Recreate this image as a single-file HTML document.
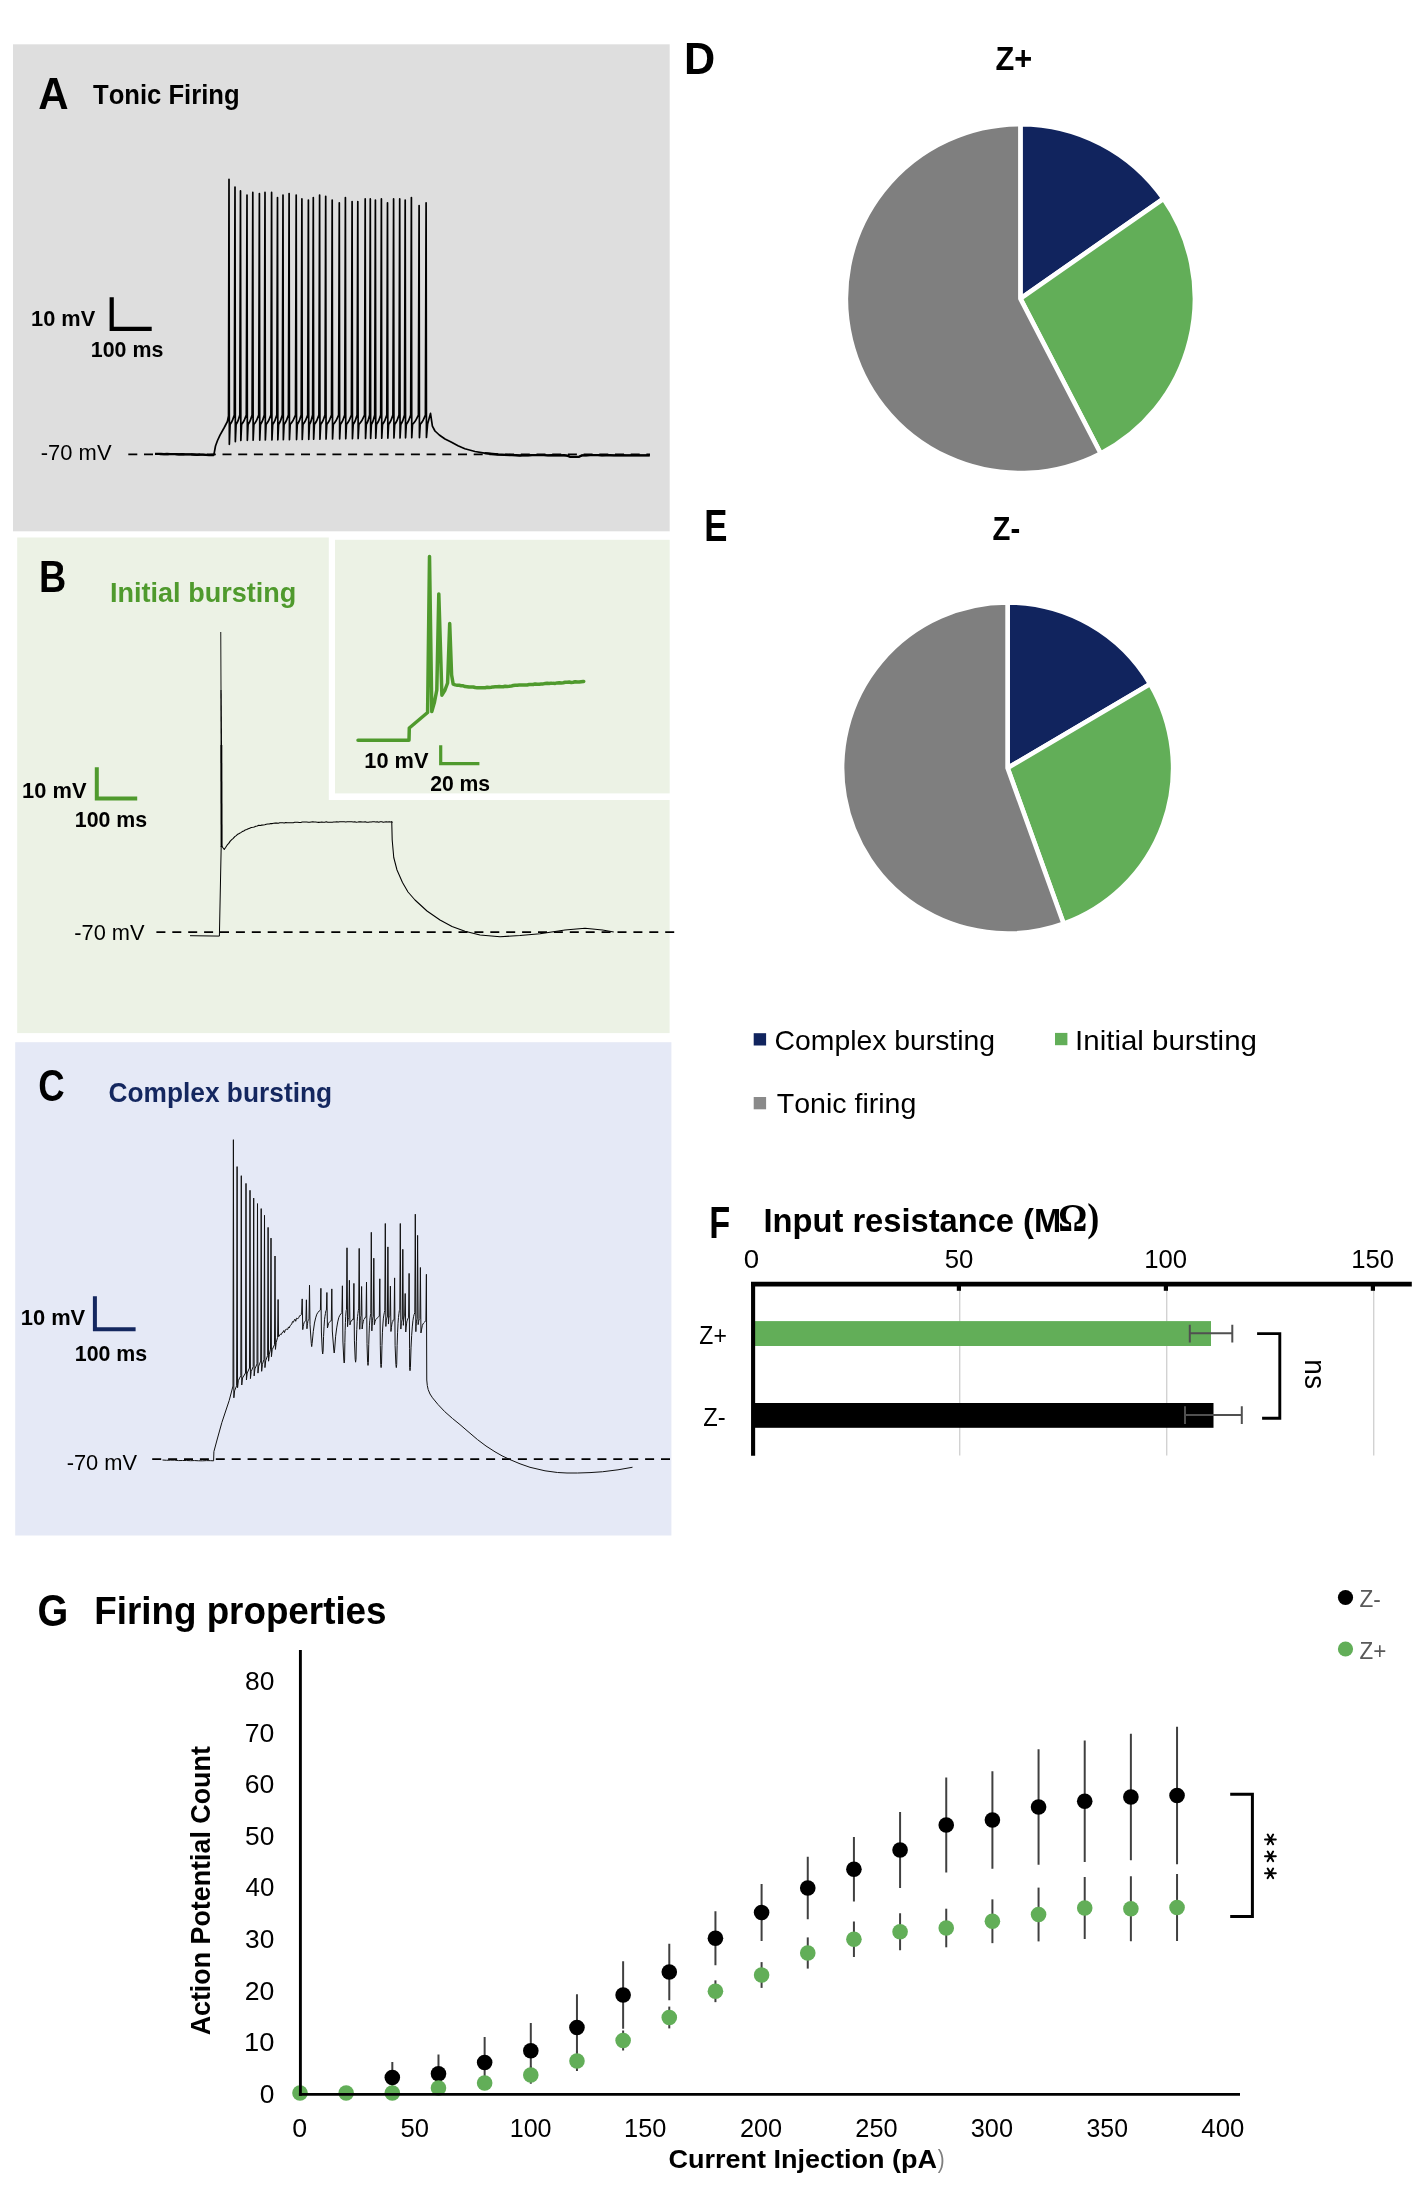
<!DOCTYPE html>
<html><head><meta charset="utf-8"><title>Figure</title>
<style>
html,body{margin:0;padding:0;background:#fff;}
body{width:1424px;height:2187px;overflow:hidden;font-family:"Liberation Sans",sans-serif;}
svg{display:block;will-change:transform;}
text{font-kerning:none;white-space:pre;}
</style></head><body>
<svg width="1424" height="2187" viewBox="0 0 1424 2187">
<rect x="0" y="0" width="1424" height="2187" fill="#ffffff"/>
<rect x="13.00" y="44.30" width="656.70" height="487.00" fill="#dedede"/>
<rect x="17.20" y="537.50" width="652.40" height="495.60" fill="#ecf2e5"/>
<rect x="328.80" y="536.00" width="341.70" height="264.00" fill="#fff"/>
<rect x="335.00" y="539.80" width="334.70" height="253.60" fill="#ecf2e5"/>
<rect x="15.20" y="1042.20" width="656.20" height="493.30" fill="#e5e9f6"/>
<text transform="translate(39.20,108.50) translate(-1.05,0) scale(0.9389,1)" font-family="Liberation Sans" font-size="44.77" font-weight="bold" fill="#000">A</text>
<text transform="translate(93.30,104.00) translate(-0.29,0) scale(0.9187,1)" font-family="Liberation Sans" font-size="27.91" font-weight="bold" fill="#000">Tonic Firing</text>
<text transform="translate(32.40,325.50) translate(-1.37,0) scale(0.9738,1)" font-family="Liberation Sans" font-size="22.38" font-weight="bold" fill="#000">10 mV</text>
<text transform="translate(92.20,357.20) translate(-1.35,0) scale(0.9615,1)" font-family="Liberation Sans" font-size="22.24" font-weight="bold" fill="#000">100 ms</text>
<text transform="translate(41.80,460.10) translate(-0.98,0) scale(0.9684,1)" font-family="Liberation Sans" font-size="22.67" font-weight="normal" fill="#000">-70 mV</text>
<path d="M111.7,297.3 V328.9 H151.7" stroke="#000" stroke-width="4.2" fill="none" />
<line x1="128.30" y1="454.40" x2="650.00" y2="454.40" stroke="#000" stroke-width="1.9" stroke-dasharray="9 6.7"/>
<path d="M155.00,453.80 L158.00,453.87 L161.00,453.84 L164.00,454.15 L167.00,453.91 L170.00,454.20 L173.00,454.17 L176.00,454.08 L179.00,454.36 L182.00,454.18 L185.00,454.44 L188.00,454.31 L191.00,454.38 L194.00,454.60 L197.00,454.86 L200.00,454.57 L203.00,454.67 L206.00,454.93 L209.00,455.15 L212.00,455.02 L213.80,455.00 L214.40,452.00 L215.50,446.00 L217.50,440.50 L220.00,435.20 L224.00,428.00 L227.40,421.50 L228.50,416.00 L229.00,179.30 L229.35,444.30 L230.10,424.5 Q232.50,421.5 234.30,415.0 L235.00,187.00 L235.35,441.60 L236.10,424.5 Q238.25,421.5 239.80,415.0 L240.50,190.90 L240.85,440.40 L241.60,424.5 Q244.25,421.5 246.30,415.0 L247.00,195.00 L247.35,440.30 L248.10,424.5 Q250.40,421.5 252.10,415.0 L252.80,192.40 L253.15,440.21 L253.90,424.5 Q256.60,421.5 258.70,415.0 L259.40,193.60 L259.75,440.11 L260.50,424.5 Q262.70,421.5 264.30,415.0 L265.00,192.40 L265.35,440.01 L266.10,424.5 Q268.80,421.5 270.90,415.0 L271.60,192.40 L271.95,439.92 L272.70,424.5 Q275.05,421.5 276.80,415.0 L277.50,197.50 L277.85,439.82 L278.60,424.5 Q280.75,421.5 282.30,415.0 L283.00,195.00 L283.35,439.72 L284.10,424.5 Q286.55,421.5 288.40,415.0 L289.10,193.60 L289.45,439.63 L290.20,424.5 Q293.15,421.5 295.50,415.0 L296.20,195.00 L296.55,439.53 L297.30,424.5 Q299.55,421.5 301.20,415.0 L301.90,198.90 L302.25,439.43 L303.00,424.5 Q305.65,421.5 307.70,415.0 L308.40,200.10 L308.75,439.34 L309.50,424.5 Q311.35,421.5 312.60,415.0 L313.30,197.50 L313.65,439.24 L314.40,424.5 Q316.95,421.5 318.90,415.0 L319.60,195.00 L319.95,439.14 L320.70,424.5 Q323.15,421.5 325.00,415.0 L325.70,196.30 L326.05,439.05 L326.80,424.5 Q329.45,421.5 331.50,415.0 L332.20,200.10 L332.55,438.95 L333.30,424.5 Q336.25,421.5 338.60,415.0 L339.30,202.80 L339.65,438.85 L340.40,424.5 Q342.85,421.5 344.70,415.0 L345.40,197.50 L345.75,438.76 L346.50,424.5 Q349.25,421.5 351.40,415.0 L352.10,201.50 L352.45,438.66 L353.20,424.5 Q355.45,421.5 357.10,415.0 L357.80,201.50 L358.15,438.56 L358.90,424.5 Q362.00,421.5 364.50,415.0 L365.20,198.90 L365.55,438.47 L366.30,424.5 Q368.25,421.5 369.60,415.0 L370.30,198.90 L370.65,438.37 L371.40,424.5 Q373.35,421.5 374.70,415.0 L375.40,200.10 L375.75,438.27 L376.50,424.5 Q378.90,421.5 380.70,415.0 L381.40,198.90 L381.75,438.18 L382.50,424.5 Q384.95,421.5 386.80,415.0 L387.50,202.80 L387.85,438.08 L388.60,424.5 Q391.05,421.5 392.90,415.0 L393.60,198.90 L393.95,437.98 L394.70,424.5 Q397.15,421.5 399.00,415.0 L399.70,198.90 L400.05,437.89 L400.80,424.5 Q402.95,421.5 404.50,415.0 L405.20,200.10 L405.55,437.79 L406.30,424.5 Q408.80,421.5 410.70,415.0 L411.40,197.50 L411.75,437.69 L412.50,424.5 Q415.75,421.5 418.40,415.0 L419.10,205.50 L419.45,437.60 L420.20,424.5 Q423.10,421.5 425.40,415.0 L426.10,202.80 L426.45,437.50 L427.60,424.00 L430.50,413.40 L432.40,426.20 L435.00,431.00 L439.30,435.00 L445.00,439.00 L451.10,442.00 L458.00,445.80 L464.90,448.80 L475.00,451.50 L484.50,453.10 L498.00,454.50 L512.00,455.20 L516.00,455.26 L520.00,455.49 L524.00,455.12 L528.00,455.44 L532.00,455.22 L536.00,455.16 L540.00,455.15 L544.00,455.22 L548.00,455.43 L552.00,455.17 L556.00,455.33 L560.00,455.36 L564.00,455.25 L567.00,455.60 L570.00,456.80 L579.00,456.80 L582.00,455.40 L586.00,455.32 L590.00,455.13 L594.00,455.12 L598.00,455.18 L602.00,455.37 L606.00,455.27 L610.00,455.23 L614.00,455.33 L618.00,455.28 L622.00,455.22 L626.00,455.42 L630.00,455.38 L634.00,455.20 L638.00,455.33 L642.00,455.31 L646.00,455.45 L649.70,455.30" stroke="#000" stroke-width="1.7" fill="none" stroke-linejoin="round"/>
<path d="M155.00,453.80 L158.00,453.87 L161.00,453.84 L164.00,454.15 L167.00,453.91 L170.00,454.20 L173.00,454.17 L176.00,454.08 L179.00,454.36 L182.00,454.18 L185.00,454.44 L188.00,454.31 L191.00,454.38 L194.00,454.60 L197.00,454.86 L200.00,454.57 L203.00,454.67 L206.00,454.93 L209.00,455.15 L212.00,455.02 L213.80,455.00" stroke="#000" stroke-width="2.3" fill="none" stroke-linejoin="round"/>
<path d="M484.50,453.10 L498.00,454.50 L512.00,455.20 L516.00,455.26 L520.00,455.49 L524.00,455.12 L528.00,455.44 L532.00,455.22 L536.00,455.16 L540.00,455.15 L544.00,455.22 L548.00,455.43 L552.00,455.17 L556.00,455.33 L560.00,455.36 L564.00,455.25 L567.00,455.60 L570.00,456.80 L579.00,456.80 L582.00,455.40 L586.00,455.32 L590.00,455.13 L594.00,455.12 L598.00,455.18 L602.00,455.37 L606.00,455.27 L610.00,455.23 L614.00,455.33 L618.00,455.28 L622.00,455.22 L626.00,455.42 L630.00,455.38 L634.00,455.20 L638.00,455.33 L642.00,455.31 L646.00,455.45 L649.70,455.30" stroke="#000" stroke-width="2.3" fill="none" stroke-linejoin="round"/>
<text transform="translate(41.40,591.90) translate(-2.52,0) scale(0.8452,1)" font-family="Liberation Sans" font-size="44.62" font-weight="bold" fill="#000">B</text>
<text transform="translate(111.80,601.80) translate(-1.81,0) scale(0.9898,1)" font-family="Liberation Sans" font-size="27.33" font-weight="bold" fill="#4f9a2d">Initial bursting</text>
<text transform="translate(23.50,797.90) translate(-1.38,0) scale(0.9898,1)" font-family="Liberation Sans" font-size="22.09" font-weight="bold" fill="#000">10 mV</text>
<text transform="translate(76.10,826.60) translate(-1.34,0) scale(0.9665,1)" font-family="Liberation Sans" font-size="22.09" font-weight="bold" fill="#000">100 ms</text>
<text transform="translate(75.20,940.10) translate(-0.97,0) scale(0.9628,1)" font-family="Liberation Sans" font-size="22.67" font-weight="normal" fill="#000">-70 mV</text>
<path d="M96.8,767.3 V798.6 H137.2" stroke="#4f9a2d" stroke-width="4.0" fill="none" />
<line x1="156.40" y1="932.20" x2="675.00" y2="932.20" stroke="#000" stroke-width="1.8" stroke-dasharray="9 6.9"/>
<path d="M190.00,935.70 L219.40,936.10 L221.20,846.00" stroke="#000" stroke-width="1.0" fill="none" />
<path d="M220.75,632 L221.0,690" stroke="#000" stroke-width="0.9" fill="none" />
<path d="M221.0,690 L221.3,745" stroke="#000" stroke-width="1.4" fill="none" />
<path d="M221.3,745 L221.6,847" stroke="#000" stroke-width="2.0" fill="none" />
<path d="M221.60,846.00 L224.25,849.50 L225.75,847.32 L227.25,844.92 L228.75,843.39 L230.25,841.09 L231.75,839.64 L233.25,838.35 L234.75,836.62 L236.25,835.57 L237.75,834.15 L239.25,833.48 L240.75,832.58 L242.25,831.58 L243.75,830.96 L245.25,829.88 L246.75,829.44 L248.25,828.76 L249.75,828.18 L251.25,827.59 L252.75,827.35 L254.25,826.98 L255.75,826.30 L257.25,826.05 L258.75,825.35 L260.25,825.43 L261.75,825.12 L263.25,825.07 L264.75,824.73 L266.25,824.20 L267.75,824.06 L269.25,824.05 L270.75,823.50 L272.25,823.61 L273.75,823.30 L275.25,823.14 L276.75,822.99 L278.25,823.31 L279.75,822.83 L281.25,822.81 L282.75,822.82 L284.25,823.03 L285.75,822.49 L287.25,822.65 L288.75,822.65 L290.25,822.80 L291.75,822.71 L293.25,822.69 L294.75,822.30 L296.25,822.35 L297.75,822.28 L299.25,822.56 L300.75,822.58 L302.25,822.07 L303.75,822.06 L305.25,822.07 L306.75,822.05 L308.25,822.19 L309.75,822.23 L311.25,822.02 L312.75,821.85 L314.25,822.09 L315.75,822.05 L317.25,822.16 L318.75,822.38 L320.25,822.21 L321.75,822.10 L323.25,822.15 L324.75,822.18 L326.25,821.80 L327.75,822.30 L329.25,822.23 L330.75,822.28 L332.25,822.23 L333.75,821.98 L335.25,821.98 L336.75,821.80 L338.25,822.11 L339.75,821.77 L341.25,821.77 L342.75,821.85 L344.25,821.82 L345.75,821.93 L347.25,821.75 L348.75,821.72 L350.25,821.81 L351.75,821.78 L353.25,821.93 L354.75,821.73 L356.25,822.24 L357.75,822.08 L359.25,821.80 L360.75,821.86 L362.25,821.92 L363.75,821.93 L365.25,821.78 L366.75,822.22 L368.25,822.30 L369.75,821.98 L371.25,822.00 L372.75,821.76 L374.25,821.77 L375.75,821.91 L377.25,821.86 L378.75,822.20 L380.25,821.80 L381.75,821.72 L383.25,822.27 L384.75,822.02 L386.25,821.79 L387.75,822.03 L389.25,821.72 L390.75,822.02 L392.25,822.29 L391.75,821.60 L392.20,840.00 L393.75,857.50 L397.00,870.00 L402.50,882.50 L408.00,892.00 L415.00,900.00 L427.00,911.00 L440.00,920.00 L452.00,926.50 L465.00,931.25 L480.00,935.00 L500.00,936.75 L520.00,935.50 L540.00,933.75 L565.00,930.00 L585.00,928.25 L602.50,930.00 L613.75,932.00" stroke="#000" stroke-width="1.05" fill="none" stroke-linejoin="round"/>
<path d="M358.00,740.30 L409.00,740.30 L409.30,728.00 L427.60,712.50 L429.50,556.40 L431.80,711.60 L434.50,702.00 L436.80,690.00 L438.80,593.90 L441.90,695.20 L445.00,690.00 L447.60,683.00 L449.70,623.60 L451.60,675.00 L453.20,684.20 L455.20,684.87 L457.20,685.16 L459.20,685.27 L461.20,685.69 L463.20,685.85 L465.20,686.57 L467.20,686.70 L469.20,687.09 L471.20,686.92 L473.20,687.00 L475.20,687.56 L477.20,687.77 L479.20,687.73 L481.20,687.74 L483.20,687.80 L485.20,687.72 L487.20,687.29 L489.20,687.42 L491.20,687.23 L493.20,686.88 L495.20,686.73 L497.20,686.76 L499.20,686.59 L501.20,686.74 L503.20,686.76 L505.20,686.25 L507.20,686.43 L509.20,686.31 L511.20,686.12 L513.20,685.55 L515.20,685.29 L517.20,685.16 L519.20,685.01 L521.20,684.88 L523.20,685.04 L525.20,685.10 L527.20,684.92 L529.20,684.54 L531.20,684.54 L533.20,684.52 L535.20,683.90 L537.20,684.18 L539.20,684.23 L541.20,684.03 L543.20,683.88 L545.20,683.57 L547.20,683.26 L549.20,683.58 L551.20,683.15 L553.20,683.37 L555.20,683.39 L557.20,682.88 L559.20,682.77 L561.20,683.05 L563.20,682.78 L565.20,682.28 L567.20,682.14 L569.20,682.05 L571.20,682.47 L573.20,682.29 L575.20,681.72 L577.20,682.09 L579.20,682.08 L581.20,681.75 L583.20,681.42 L583.70,681.50" stroke="#4f9a2d" stroke-width="3.5" fill="none" stroke-linejoin="round" stroke-linecap="round"/>
<path d="M440.7,745.3 V763.7 H479.4" stroke="#4f9a2d" stroke-width="3.2" fill="none" />
<text transform="translate(365.70,768.20) translate(-1.37,0) scale(0.9866,1)" font-family="Liberation Sans" font-size="22.09" font-weight="bold" fill="#000">10 mV</text>
<text transform="translate(430.90,790.90) translate(-0.73,0) scale(0.9578,1)" font-family="Liberation Sans" font-size="22.09" font-weight="bold" fill="#000">20 ms</text>
<text transform="translate(39.80,1101.00) translate(-1.50,0) scale(0.8300,1)" font-family="Liberation Sans" font-size="44.04" font-weight="bold" fill="#000">C</text>
<text transform="translate(109.50,1101.90) translate(-1.08,0) scale(0.9684,1)" font-family="Liberation Sans" font-size="27.18" font-weight="bold" fill="#14275f">Complex bursting</text>
<text transform="translate(22.10,1324.80) translate(-1.38,0) scale(0.9785,1)" font-family="Liberation Sans" font-size="22.38" font-weight="bold" fill="#000">10 mV</text>
<text transform="translate(76.10,1360.80) translate(-1.34,0) scale(0.9665,1)" font-family="Liberation Sans" font-size="22.09" font-weight="bold" fill="#000">100 ms</text>
<text transform="translate(67.60,1469.90) translate(-0.97,0) scale(0.9581,1)" font-family="Liberation Sans" font-size="22.82" font-weight="normal" fill="#000">-70 mV</text>
<path d="M94.9,1296.2 V1329.2 H135.6" stroke="#14275f" stroke-width="4.0" fill="none" />
<line x1="152.20" y1="1459.10" x2="670.50" y2="1459.10" stroke="#000" stroke-width="1.8" stroke-dasharray="9 6.9"/>
<path d="M162.50,1460.00 L166.50,1460.27 L170.50,1460.15 L174.50,1460.15 L178.50,1460.58 L182.50,1460.50 L186.50,1460.49 L190.50,1460.70 L194.50,1460.55 L198.50,1460.77 L202.50,1460.80 L206.50,1460.60 L210.50,1460.67 L213.60,1460.80 L213.90,1451.60 L217.00,1440.00 L221.90,1422.40 L229.20,1400.50 L233.00,1386.00 L233.40,1139.70 L233.85,1397.80 L234.60,1390.80 L236.60,1385.80 L237.10,1166.60 L237.55,1387.70 L238.30,1380.70 L240.80,1375.70 L241.30,1175.70 L241.75,1385.00 L242.50,1378.00 L245.50,1373.00 L246.00,1183.40 L246.45,1380.00 L247.20,1373.00 L249.50,1368.00 L250.00,1190.30 L250.45,1378.60 L251.20,1371.60 L253.20,1366.60 L253.70,1198.10 L254.15,1375.90 L254.90,1368.90 L257.00,1363.90 L257.50,1203.60 L257.95,1373.10 L258.70,1366.10 L260.70,1361.10 L261.20,1208.60 L261.65,1371.30 L262.40,1364.30 L264.00,1359.30 L264.50,1215.30 L264.95,1367.60 L265.70,1360.60 L267.60,1355.60 L268.10,1227.40 L268.55,1361.20 L269.30,1354.20 L270.50,1349.20 L271.00,1238.10 L271.45,1356.70 L272.20,1349.70 L274.50,1344.70 L275.00,1256.00 L275.45,1349.40 L276.20,1342.40 L277.60,1337.40 L278.10,1299.50 L278.55,1336.60 L278.90,1336.60 L279.70,1335.07 L280.50,1334.10 L281.30,1334.56 L282.10,1332.61 L282.90,1332.40 L283.70,1330.58 L284.50,1332.60 L285.30,1329.82 L286.10,1329.41 L286.90,1329.08 L287.70,1329.45 L288.50,1326.93 L289.30,1327.94 L290.10,1325.66 L290.90,1324.98 L291.70,1324.17 L292.50,1321.57 L293.30,1322.31 L294.10,1320.60 L294.90,1319.17 L295.70,1321.25 L296.50,1318.21 L297.30,1318.52 L298.10,1318.64 L298.90,1317.25 L299.70,1315.64 L300.50,1315.55 L301.30,1314.70 L301.36,1313.95 L301.41,1312.58 L301.47,1312.57 L301.53,1311.95 L301.59,1311.78 L301.64,1312.14 L301.70,1311.78 L302.20,1298.90 L302.75,1329.62 L303.20,1326.31 L303.65,1324.32 L304.10,1322.77 L304.55,1321.83 L305.00,1321.37 L305.45,1320.71 L305.90,1320.51 L306.40,1299.80 L306.95,1328.78 L307.24,1325.75 L307.54,1323.55 L307.83,1321.36 L308.12,1320.66 L308.41,1320.38 L308.71,1319.83 L309.00,1318.83 L309.50,1285.20 L310.00,1324.60 L311.30,1343.60 L311.70,1346.60 L312.10,1343.60 L313.29,1331.46 L314.47,1323.05 L315.66,1317.88 L316.84,1314.16 L318.03,1312.39 L319.21,1310.94 L320.40,1310.01 L320.90,1288.30 L321.40,1332.00 L322.30,1351.00 L322.70,1354.00 L323.10,1351.00 L323.57,1336.56 L324.04,1326.76 L324.51,1319.76 L324.99,1316.19 L325.46,1313.41 L325.93,1310.76 L326.40,1310.22 L326.90,1292.50 L327.45,1327.98 L328.00,1325.81 L328.55,1323.47 L329.10,1322.64 L329.65,1321.99 L330.20,1321.32 L330.75,1320.85 L331.30,1320.76 L331.80,1288.90 L332.30,1331.00 L333.80,1350.00 L334.20,1353.00 L334.60,1350.00 L335.64,1336.23 L336.69,1327.92 L337.73,1321.93 L338.77,1317.60 L339.81,1315.32 L340.86,1313.88 L341.90,1312.62 L342.40,1285.80 L342.90,1341.00 L343.80,1360.00 L344.20,1363.00 L344.60,1360.00 L344.87,1342.47 L345.14,1330.29 L345.41,1322.51 L345.69,1316.34 L345.96,1312.98 L346.23,1310.42 L346.50,1309.60 L347.00,1247.80 L347.55,1326.70 L347.74,1323.86 L347.94,1321.59 L348.13,1319.59 L348.32,1318.53 L348.51,1318.66 L348.71,1317.89 L348.90,1317.73 L349.40,1280.30 L349.95,1324.89 L350.44,1322.77 L350.94,1321.05 L351.43,1321.01 L351.92,1320.11 L352.41,1319.87 L352.91,1318.89 L353.40,1319.49 L353.90,1283.40 L354.40,1340.20 L355.20,1359.20 L355.60,1362.20 L356.00,1359.20 L356.39,1341.83 L356.77,1329.64 L357.16,1321.68 L357.54,1316.69 L357.93,1313.59 L358.31,1310.63 L358.70,1308.96 L359.20,1248.40 L359.75,1329.27 L359.94,1324.09 L360.14,1320.76 L360.33,1318.77 L360.52,1317.46 L360.71,1316.51 L360.91,1316.33 L361.10,1315.45 L361.60,1286.50 L362.15,1329.00 L362.70,1324.28 L363.25,1321.70 L363.80,1319.59 L364.35,1319.06 L364.90,1318.05 L365.45,1317.14 L366.00,1317.06 L366.50,1282.00 L367.00,1343.40 L367.60,1362.40 L368.00,1365.40 L368.40,1362.40 L368.74,1344.68 L369.09,1333.88 L369.43,1325.83 L369.77,1320.80 L370.11,1317.76 L370.46,1315.06 L370.80,1313.68 L371.30,1232.30 L371.85,1330.88 L372.06,1326.30 L372.26,1322.90 L372.47,1320.66 L372.68,1318.98 L372.89,1317.97 L373.09,1317.04 L373.30,1316.69 L373.80,1258.20 L374.35,1324.71 L375.06,1321.46 L375.76,1319.45 L376.47,1318.93 L377.18,1318.10 L377.89,1317.33 L378.59,1316.57 L379.30,1316.28 L379.80,1278.80 L380.30,1345.60 L380.70,1364.60 L381.10,1367.60 L381.50,1364.60 L381.97,1345.31 L382.44,1332.21 L382.91,1323.99 L383.39,1318.15 L383.86,1315.09 L384.33,1312.60 L384.80,1310.51 L385.30,1223.50 L385.85,1326.44 L386.07,1322.89 L386.29,1320.27 L386.51,1319.14 L386.74,1318.24 L386.96,1317.60 L387.18,1316.85 L387.40,1316.86 L387.90,1246.90 L388.45,1324.05 L388.66,1320.92 L388.86,1318.55 L389.07,1317.20 L389.28,1316.59 L389.49,1315.93 L389.69,1315.89 L389.90,1315.57 L390.40,1286.10 L390.95,1331.51 L391.40,1327.54 L391.85,1324.17 L392.30,1322.19 L392.75,1321.57 L393.20,1319.88 L393.65,1319.90 L394.10,1319.44 L394.60,1277.90 L395.10,1345.60 L395.90,1364.60 L396.30,1367.60 L396.70,1364.60 L397.14,1345.24 L397.59,1332.21 L398.03,1323.24 L398.47,1317.56 L398.91,1313.79 L399.36,1310.56 L399.80,1309.24 L400.30,1223.50 L400.85,1329.04 L401.06,1326.09 L401.26,1323.67 L401.47,1322.53 L401.68,1321.36 L401.89,1320.73 L402.09,1319.84 L402.30,1319.36 L402.80,1249.30 L403.35,1325.33 L403.54,1322.22 L403.74,1319.65 L403.93,1318.19 L404.12,1317.18 L404.31,1316.56 L404.51,1315.92 L404.70,1315.13 L405.20,1293.50 L405.75,1331.98 L406.16,1327.05 L406.56,1323.87 L406.97,1321.09 L407.38,1320.30 L407.79,1318.84 L408.19,1318.02 L408.60,1317.78 L409.10,1273.40 L409.60,1348.70 L409.60,1367.70 L410.00,1370.70 L410.40,1367.70 L411.03,1347.83 L411.66,1335.35 L412.29,1326.93 L412.91,1320.70 L413.54,1316.76 L414.17,1314.32 L414.80,1312.83 L415.30,1214.20 L415.85,1331.67 L416.03,1326.69 L416.21,1323.73 L416.39,1321.83 L416.56,1320.98 L416.74,1319.65 L416.92,1319.32 L417.10,1318.37 L417.60,1235.40 L418.15,1324.61 L418.40,1322.82 L418.65,1321.48 L418.90,1320.22 L419.15,1319.86 L419.40,1319.43 L419.65,1319.17 L419.90,1318.65 L420.40,1267.50 L420.95,1332.94 L421.66,1329.08 L422.36,1325.31 L423.07,1323.86 L423.78,1322.96 L424.49,1322.26 L425.19,1321.19 L425.90,1320.64 L426.40,1274.30 L426.75,1380.00 L427.30,1385.50 L428.20,1389.60 L430.00,1394.00 L432.50,1397.80 L438.00,1404.50 L444.70,1411.60 L452.50,1418.50 L460.00,1424.60 L468.00,1431.50 L477.50,1439.60 L486.00,1446.00 L495.00,1451.80 L502.00,1455.80 L510.00,1459.60 L520.00,1463.80 L530.00,1467.30 L545.00,1470.80 L557.50,1472.50 L567.00,1473.00 L577.50,1473.00 L590.00,1472.60 L602.50,1471.75 L618.00,1469.80 L632.50,1467.25" stroke="#111" stroke-width="1.0" fill="none" stroke-linejoin="round"/>
<text transform="translate(686.90,74.10) translate(-2.89,0) scale(0.9652,1)" font-family="Liberation Sans" font-size="44.77" font-weight="bold" fill="#000">D</text>
<text transform="translate(996.40,70.00) translate(-0.92,0) scale(0.9367,1)" font-family="Liberation Sans" font-size="32.85" font-weight="bold" fill="#000">Z+</text>
<path d="M1020.40,298.60 L1020.40,124.10 A174.50,174.50 0 0 1 1163.52,198.76 Z" fill="#11245e" stroke="#fff" stroke-width="4.6" stroke-linejoin="round"/>
<path d="M1020.40,298.60 L1163.52,198.76 A174.50,174.50 0 0 1 1100.70,453.52 Z" fill="#62ae58" stroke="#fff" stroke-width="4.6" stroke-linejoin="round"/>
<path d="M1020.40,298.60 L1100.70,453.52 A174.50,174.50 0 1 1 1020.40,124.10 Z" fill="#7f7f7f" stroke="#fff" stroke-width="4.6" stroke-linejoin="round"/>
<text transform="translate(706.50,541.00) translate(-2.33,0) scale(0.7739,1)" font-family="Liberation Sans" font-size="44.91" font-weight="bold" fill="#000">E</text>
<text transform="translate(993.40,540.00) translate(-0.87,0) scale(0.8916,1)" font-family="Liberation Sans" font-size="32.85" font-weight="bold" fill="#000">Z-</text>
<path d="M1007.60,768.00 L1007.60,602.50 A165.50,165.50 0 0 1 1150.20,684.00 Z" fill="#11245e" stroke="#fff" stroke-width="4.6" stroke-linejoin="round"/>
<path d="M1007.60,768.00 L1150.20,684.00 A165.50,165.50 0 0 1 1063.66,923.72 Z" fill="#62ae58" stroke="#fff" stroke-width="4.6" stroke-linejoin="round"/>
<path d="M1007.60,768.00 L1063.66,923.72 A165.50,165.50 0 1 1 1007.60,602.50 Z" fill="#7f7f7f" stroke="#fff" stroke-width="4.6" stroke-linejoin="round"/>
<rect x="753.70" y="1033.20" width="12.40" height="12.30" fill="#11245e"/>
<text transform="translate(776.00,1049.90) translate(-1.44,0) scale(1.0373,1)" font-family="Liberation Sans" font-size="27.33" font-weight="normal" fill="#000">Complex bursting</text>
<rect x="1055.00" y="1032.90" width="12.40" height="12.30" fill="#62ae58"/>
<text transform="translate(1077.80,1049.80) translate(-2.72,0) scale(1.0733,1)" font-family="Liberation Sans" font-size="27.47" font-weight="normal" fill="#000">Initial bursting</text>
<rect x="753.70" y="1097.00" width="12.40" height="12.30" fill="#8a8a8a"/>
<text transform="translate(777.40,1113.20) translate(-0.64,0) scale(1.0452,1)" font-family="Liberation Sans" font-size="27.33" font-weight="normal" fill="#000">Tonic firing</text>
<text transform="translate(711.60,1237.70) translate(-2.29,0) scale(0.7737,1)" font-family="Liberation Sans" font-size="44.33" font-weight="bold" fill="#000">F</text>
<text transform="translate(765.70,1231.50) translate(-2.19,0) scale(0.9991,1)" font-family="Liberation Sans" font-size="32.70" font-weight="bold" fill="#000">Input resistance (M</text>
<text transform="translate(1059.90,1231.00) translate(-1.64,0) scale(0.9150,1)" font-family="Liberation Serif" font-size="39.55" font-weight="bold" fill="#000">Ω)</text>
<line x1="959.70" y1="1286.00" x2="959.70" y2="1455.50" stroke="#d2d2d2" stroke-width="1.4" />
<line x1="1166.70" y1="1286.00" x2="1166.70" y2="1455.50" stroke="#d2d2d2" stroke-width="1.4" />
<line x1="1373.70" y1="1286.00" x2="1373.70" y2="1455.50" stroke="#d2d2d2" stroke-width="1.4" />
<rect x="755.00" y="1321.10" width="456.00" height="24.90" fill="#62ae58"/>
<rect x="755.00" y="1403.00" width="458.50" height="24.80" fill="#000"/>
<line x1="751.00" y1="1284.10" x2="1411.80" y2="1284.10" stroke="#000" stroke-width="4.8" />
<line x1="753.10" y1="1282.00" x2="753.10" y2="1455.80" stroke="#000" stroke-width="4.1" />
<line x1="958.90" y1="1284.00" x2="958.90" y2="1290.80" stroke="#000" stroke-width="4.2" />
<line x1="1165.90" y1="1284.00" x2="1165.90" y2="1290.80" stroke="#000" stroke-width="4.2" />
<line x1="1372.90" y1="1284.00" x2="1372.90" y2="1290.80" stroke="#000" stroke-width="4.2" />
<text transform="translate(744.80,1268.00) translate(-1.08,0) scale(1.0981,1)" font-family="Liberation Sans" font-size="25.15" font-weight="normal" fill="#000">0</text>
<text transform="translate(945.70,1268.00) translate(-1.03,0) scale(1.0238,1)" font-family="Liberation Sans" font-size="25.15" font-weight="normal" fill="#000">50</text>
<text transform="translate(1146.25,1268.00) translate(-1.96,0) scale(1.0216,1)" font-family="Liberation Sans" font-size="25.15" font-weight="normal" fill="#000">100</text>
<text transform="translate(1353.20,1268.00) translate(-1.95,0) scale(1.0190,1)" font-family="Liberation Sans" font-size="25.15" font-weight="normal" fill="#000">150</text>
<text transform="translate(700.10,1343.90) translate(-0.73,0) scale(0.9088,1)" font-family="Liberation Sans" font-size="25.29" font-weight="normal" fill="#000">Z+</text>
<text transform="translate(704.00,1425.70) translate(-0.75,0) scale(0.9281,1)" font-family="Liberation Sans" font-size="25.58" font-weight="normal" fill="#000">Z-</text>
<path d="M1189.8,1333.3 H1232.3 M1189.8,1324.8 V1342.5 M1232.3,1324.8 V1342.5" stroke="#505050" stroke-width="2.0" fill="none" />
<path d="M1185,1415 H1241.8 M1185,1406.3 V1424 M1241.8,1406.3 V1424" stroke="#505050" stroke-width="2.0" fill="none" />
<path d="M1257.1,1333.6 H1279.8 V1418.3 H1262.1" stroke="#000" stroke-width="2.9" fill="none" stroke-linejoin="miter"/>
<text transform="translate(1305.00,1361.20) rotate(90) translate(-1.87,0) scale(0.9280,1)" font-family="Liberation Sans" font-size="30.28" font-weight="normal" fill="#000">ns</text>
<text transform="translate(39.10,1626.00) translate(-1.62,0) scale(0.9074,1)" font-family="Liberation Sans" font-size="43.61" font-weight="bold" fill="#000">G</text>
<text transform="translate(96.70,1624.00) translate(-2.46,0) scale(0.9593,1)" font-family="Liberation Sans" font-size="38.37" font-weight="bold" fill="#000">Firing properties</text>
<line x1="392.32" y1="2062.00" x2="392.32" y2="2093.00" stroke="#404040" stroke-width="2.0" />
<line x1="438.48" y1="2054.50" x2="438.48" y2="2093.00" stroke="#404040" stroke-width="2.0" />
<line x1="484.64" y1="2037.00" x2="484.64" y2="2088.00" stroke="#404040" stroke-width="2.0" />
<line x1="530.80" y1="2023.00" x2="530.80" y2="2078.50" stroke="#404040" stroke-width="2.0" />
<line x1="576.96" y1="1994.25" x2="576.96" y2="2060.75" stroke="#404040" stroke-width="2.0" />
<line x1="623.12" y1="1961.25" x2="623.12" y2="2028.75" stroke="#404040" stroke-width="2.0" />
<line x1="669.28" y1="1943.75" x2="669.28" y2="2000.25" stroke="#404040" stroke-width="2.0" />
<line x1="715.44" y1="1911.25" x2="715.44" y2="1965.25" stroke="#404040" stroke-width="2.0" />
<line x1="761.60" y1="1884.00" x2="761.60" y2="1941.00" stroke="#404040" stroke-width="2.0" />
<line x1="807.76" y1="1856.75" x2="807.76" y2="1919.25" stroke="#404040" stroke-width="2.0" />
<line x1="853.92" y1="1837.00" x2="853.92" y2="1901.50" stroke="#404040" stroke-width="2.0" />
<line x1="900.08" y1="1812.00" x2="900.08" y2="1888.00" stroke="#404040" stroke-width="2.0" />
<line x1="946.24" y1="1777.50" x2="946.24" y2="1872.50" stroke="#404040" stroke-width="2.0" />
<line x1="992.40" y1="1771.25" x2="992.40" y2="1868.75" stroke="#404040" stroke-width="2.0" />
<line x1="1038.56" y1="1749.25" x2="1038.56" y2="1864.75" stroke="#404040" stroke-width="2.0" />
<line x1="1084.72" y1="1740.50" x2="1084.72" y2="1862.00" stroke="#404040" stroke-width="2.0" />
<line x1="1130.88" y1="1733.75" x2="1130.88" y2="1860.25" stroke="#404040" stroke-width="2.0" />
<line x1="1177.04" y1="1726.75" x2="1177.04" y2="1864.25" stroke="#404040" stroke-width="2.0" />
<line x1="438.48" y1="2085.00" x2="438.48" y2="2091.00" stroke="#404040" stroke-width="2.0" />
<line x1="484.64" y1="2077.00" x2="484.64" y2="2089.00" stroke="#404040" stroke-width="2.0" />
<line x1="530.80" y1="2066.25" x2="530.80" y2="2083.75" stroke="#404040" stroke-width="2.0" />
<line x1="576.96" y1="2051.00" x2="576.96" y2="2071.00" stroke="#404040" stroke-width="2.0" />
<line x1="623.12" y1="2030.50" x2="623.12" y2="2050.50" stroke="#404040" stroke-width="2.0" />
<line x1="669.28" y1="2006.60" x2="669.28" y2="2028.40" stroke="#404040" stroke-width="2.0" />
<line x1="715.44" y1="1980.35" x2="715.44" y2="2002.15" stroke="#404040" stroke-width="2.0" />
<line x1="761.60" y1="1962.10" x2="761.60" y2="1987.90" stroke="#404040" stroke-width="2.0" />
<line x1="807.76" y1="1937.40" x2="807.76" y2="1968.60" stroke="#404040" stroke-width="2.0" />
<line x1="853.92" y1="1921.50" x2="853.92" y2="1957.00" stroke="#404040" stroke-width="2.0" />
<line x1="900.08" y1="1913.25" x2="900.08" y2="1950.25" stroke="#404040" stroke-width="2.0" />
<line x1="946.24" y1="1908.70" x2="946.24" y2="1947.30" stroke="#404040" stroke-width="2.0" />
<line x1="992.40" y1="1899.35" x2="992.40" y2="1943.15" stroke="#404040" stroke-width="2.0" />
<line x1="1038.56" y1="1887.60" x2="1038.56" y2="1941.40" stroke="#404040" stroke-width="2.0" />
<line x1="1084.72" y1="1877.00" x2="1084.72" y2="1939.00" stroke="#404040" stroke-width="2.0" />
<line x1="1130.88" y1="1876.25" x2="1130.88" y2="1941.25" stroke="#404040" stroke-width="2.0" />
<line x1="1177.04" y1="1874.00" x2="1177.04" y2="1941.00" stroke="#404040" stroke-width="2.0" />
<circle cx="392.32" cy="2077.50" r="7.8" fill="#000"/>
<circle cx="438.48" cy="2073.75" r="7.8" fill="#000"/>
<circle cx="484.64" cy="2062.50" r="7.8" fill="#000"/>
<circle cx="530.80" cy="2050.75" r="7.8" fill="#000"/>
<circle cx="576.96" cy="2027.50" r="7.8" fill="#000"/>
<circle cx="623.12" cy="1995.00" r="7.8" fill="#000"/>
<circle cx="669.28" cy="1972.00" r="7.8" fill="#000"/>
<circle cx="715.44" cy="1938.25" r="7.8" fill="#000"/>
<circle cx="761.60" cy="1912.50" r="7.8" fill="#000"/>
<circle cx="807.76" cy="1888.00" r="7.8" fill="#000"/>
<circle cx="853.92" cy="1869.25" r="7.8" fill="#000"/>
<circle cx="900.08" cy="1850.00" r="7.8" fill="#000"/>
<circle cx="946.24" cy="1825.00" r="7.8" fill="#000"/>
<circle cx="992.40" cy="1820.00" r="7.8" fill="#000"/>
<circle cx="1038.56" cy="1807.00" r="7.8" fill="#000"/>
<circle cx="1084.72" cy="1801.25" r="7.8" fill="#000"/>
<circle cx="1130.88" cy="1797.00" r="7.8" fill="#000"/>
<circle cx="1177.04" cy="1795.50" r="7.8" fill="#000"/>
<circle cx="300.00" cy="2093.00" r="7.8" fill="#62ae58"/>
<circle cx="346.16" cy="2093.00" r="7.8" fill="#62ae58"/>
<circle cx="392.32" cy="2093.00" r="7.8" fill="#62ae58"/>
<circle cx="438.48" cy="2088.00" r="7.8" fill="#62ae58"/>
<circle cx="484.64" cy="2083.00" r="7.8" fill="#62ae58"/>
<circle cx="530.80" cy="2075.00" r="7.8" fill="#62ae58"/>
<circle cx="576.96" cy="2061.00" r="7.8" fill="#62ae58"/>
<circle cx="623.12" cy="2040.50" r="7.8" fill="#62ae58"/>
<circle cx="669.28" cy="2017.50" r="7.8" fill="#62ae58"/>
<circle cx="715.44" cy="1991.25" r="7.8" fill="#62ae58"/>
<circle cx="761.60" cy="1975.00" r="7.8" fill="#62ae58"/>
<circle cx="807.76" cy="1953.00" r="7.8" fill="#62ae58"/>
<circle cx="853.92" cy="1939.25" r="7.8" fill="#62ae58"/>
<circle cx="900.08" cy="1931.75" r="7.8" fill="#62ae58"/>
<circle cx="946.24" cy="1928.00" r="7.8" fill="#62ae58"/>
<circle cx="992.40" cy="1921.25" r="7.8" fill="#62ae58"/>
<circle cx="1038.56" cy="1914.50" r="7.8" fill="#62ae58"/>
<circle cx="1084.72" cy="1908.00" r="7.8" fill="#62ae58"/>
<circle cx="1130.88" cy="1908.75" r="7.8" fill="#62ae58"/>
<circle cx="1177.04" cy="1907.50" r="7.8" fill="#62ae58"/>
<line x1="300.40" y1="1650.00" x2="300.40" y2="2095.80" stroke="#000" stroke-width="2.9" />
<line x1="298.90" y1="2094.40" x2="1240.00" y2="2094.40" stroke="#000" stroke-width="2.7" />
<text transform="translate(260.70,2102.90) translate(-1.03,0) scale(1.0188,1)" font-family="Liberation Sans" font-size="25.87" font-weight="normal" fill="#000">0</text>
<text transform="translate(246.10,2051.29) translate(-2.08,0) scale(1.0544,1)" font-family="Liberation Sans" font-size="25.87" font-weight="normal" fill="#000">10</text>
<text transform="translate(246.10,1999.68) translate(-1.34,0) scale(1.0277,1)" font-family="Liberation Sans" font-size="25.87" font-weight="normal" fill="#000">20</text>
<text transform="translate(246.10,1948.07) translate(-1.00,0) scale(1.0156,1)" font-family="Liberation Sans" font-size="25.87" font-weight="normal" fill="#000">30</text>
<text transform="translate(246.10,1896.46) translate(-0.59,0) scale(1.0010,1)" font-family="Liberation Sans" font-size="25.87" font-weight="normal" fill="#000">40</text>
<text transform="translate(246.10,1844.85) translate(-1.05,0) scale(1.0175,1)" font-family="Liberation Sans" font-size="25.87" font-weight="normal" fill="#000">50</text>
<text transform="translate(246.10,1793.24) translate(-1.35,0) scale(1.0282,1)" font-family="Liberation Sans" font-size="25.87" font-weight="normal" fill="#000">60</text>
<text transform="translate(246.10,1741.63) translate(-1.36,0) scale(1.0287,1)" font-family="Liberation Sans" font-size="25.87" font-weight="normal" fill="#000">70</text>
<text transform="translate(246.10,1690.02) translate(-1.15,0) scale(1.0209,1)" font-family="Liberation Sans" font-size="25.87" font-weight="normal" fill="#000">80</text>
<text transform="translate(293.30,2136.80) translate(-1.05,0) scale(1.0467,1)" font-family="Liberation Sans" font-size="25.58" font-weight="normal" fill="#000">0</text>
<text transform="translate(401.60,2136.80) translate(-1.03,0) scale(1.0026,1)" font-family="Liberation Sans" font-size="25.58" font-weight="normal" fill="#000">50</text>
<text transform="translate(511.60,2136.80) translate(-1.91,0) scale(0.9815,1)" font-family="Liberation Sans" font-size="25.58" font-weight="normal" fill="#000">100</text>
<text transform="translate(626.00,2136.80) translate(-1.93,0) scale(0.9916,1)" font-family="Liberation Sans" font-size="25.58" font-weight="normal" fill="#000">150</text>
<text transform="translate(741.20,2136.80) translate(-1.27,0) scale(0.9902,1)" font-family="Liberation Sans" font-size="25.58" font-weight="normal" fill="#000">200</text>
<text transform="translate(856.60,2136.80) translate(-1.27,0) scale(0.9902,1)" font-family="Liberation Sans" font-size="25.58" font-weight="normal" fill="#000">250</text>
<text transform="translate(971.75,2136.80) translate(-0.96,0) scale(0.9900,1)" font-family="Liberation Sans" font-size="25.58" font-weight="normal" fill="#000">300</text>
<text transform="translate(1087.50,2136.80) translate(-0.95,0) scale(0.9703,1)" font-family="Liberation Sans" font-size="25.58" font-weight="normal" fill="#000">350</text>
<text transform="translate(1201.95,2136.80) translate(-0.59,0) scale(1.0050,1)" font-family="Liberation Sans" font-size="25.58" font-weight="normal" fill="#000">400</text>
<text transform="translate(210.40,2034.70) rotate(-90) translate(-0.67,0) scale(0.9523,1)" font-family="Liberation Sans" font-size="28.20" font-weight="bold" fill="#000">Action Potential Count</text>
<text transform="translate(669.50,2168.40) translate(-1.11,0) scale(1.0159,1)" font-family="Liberation Sans" font-size="26.60" font-weight="bold" fill="#000">Current Injection (pA</text>
<text transform="translate(937.80,2168.40) translate(-0.12,0) scale(0.7799,1)" font-family="Liberation Sans" font-size="26.60" font-weight="normal" fill="#7f7f7f">)</text>
<path d="M1230.2,1794.3 H1252.4 V1916.4 H1230.2" stroke="#000" stroke-width="3.0" fill="none" stroke-linejoin="miter"/>
<path d="M1265.00,1839.40 H1275.80 M1267.70,1834.60 L1273.10,1844.20 M1267.70,1844.20 L1273.10,1834.60" stroke="#000" stroke-width="2.0" fill="none" stroke-linecap="round"/>
<path d="M1265.00,1856.30 H1275.80 M1267.70,1851.50 L1273.10,1861.10 M1267.70,1861.10 L1273.10,1851.50" stroke="#000" stroke-width="2.0" fill="none" stroke-linecap="round"/>
<path d="M1265.00,1873.30 H1275.80 M1267.70,1868.50 L1273.10,1878.10 M1267.70,1878.10 L1273.10,1868.50" stroke="#000" stroke-width="2.0" fill="none" stroke-linecap="round"/>
<circle cx="1345.5" cy="1597.5" r="7.6" fill="#000"/>
<circle cx="1345.5" cy="1649" r="7.6" fill="#62ae58"/>
<text transform="translate(1360.20,1607.40) translate(-0.72,0) scale(0.9142,1)" font-family="Liberation Sans" font-size="24.71" font-weight="normal" fill="#595959">Z-</text>
<text transform="translate(1360.20,1658.80) translate(-0.71,0) scale(0.9084,1)" font-family="Liberation Sans" font-size="24.71" font-weight="normal" fill="#595959">Z+</text>
</svg>
</body></html>
